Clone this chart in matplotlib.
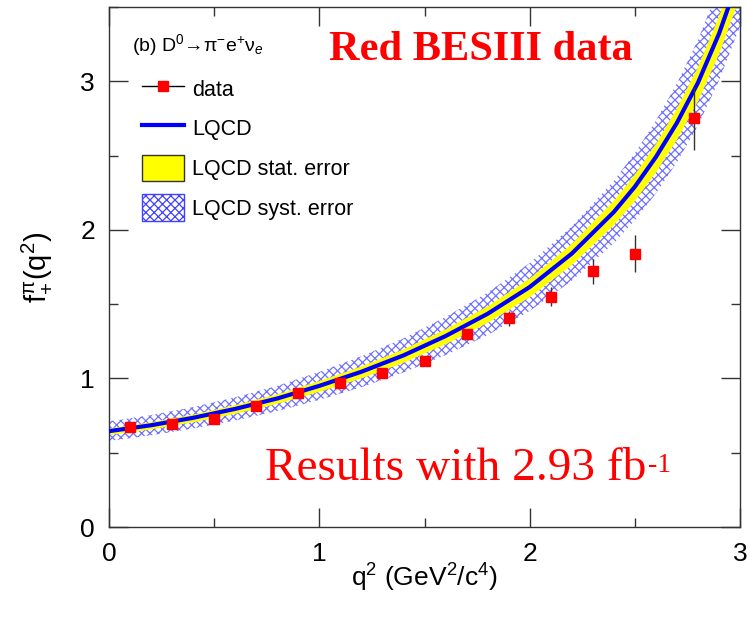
import matplotlib
matplotlib.use('Agg')
import matplotlib.pyplot as plt
from matplotlib.lines import Line2D
from matplotlib.patches import Patch
from matplotlib.ticker import MultipleLocator

# measured points (D0 -> pi- e+ nu_e)
data_q2 = [0.1, 0.3, 0.5, 0.7, 0.9, 1.1, 1.3, 1.5, 1.7, 1.9, 2.1, 2.3, 2.5,
           2.78]
data_f = [0.672, 0.692, 0.724, 0.814, 0.904, 0.969, 1.036, 1.115, 1.30,
          1.405, 1.551, 1.72, 1.84, 2.75]
data_err = [0.012, 0.012, 0.013, 0.015, 0.017, 0.02, 0.022, 0.026, 0.035,
            0.05, 0.065, 0.085, 0.125, 0.21]

# LQCD curve
lqcd_q2 = [0.0, 0.2, 0.4, 0.6, 0.8, 1.0, 1.2, 1.4, 1.6, 1.8, 2.0, 2.2, 2.4,
           2.5, 2.6, 2.7, 2.8, 2.9, 3.0]
lqcd_f = [0.645, 0.685, 0.735, 0.795, 0.865, 0.950, 1.045, 1.155, 1.285,
          1.435, 1.615, 1.84, 2.12, 2.29, 2.49, 2.72, 2.99, 3.32, 3.72]
lqcd_stat = [0.022, 0.024, 0.026, 0.029, 0.032, 0.036, 0.040, 0.045, 0.050,
             0.056, 0.063, 0.071, 0.082, 0.089, 0.096, 0.105, 0.115, 0.127,
             0.14]
lqcd_syst = [0.066, 0.068, 0.072, 0.078, 0.085, 0.094, 0.104, 0.115, 0.128,
             0.143, 0.161, 0.183, 0.21, 0.226, 0.245, 0.265, 0.288, 0.315,
             0.35]

plt.rcParams['font.family'] = ['Liberation Sans', 'DejaVu Sans']
plt.rcParams['mathtext.fontset'] = 'custom'
plt.rcParams['mathtext.rm'] = 'Liberation Sans'
plt.rcParams['mathtext.it'] = 'Liberation Sans:italic'
plt.rcParams['hatch.linewidth'] = 0.9

fig = plt.figure(figsize=(7.5, 6.28), dpi=100)
ax = fig.add_axes([0.1453, 0.1608, 0.8414, 0.8281])

syst_lo = [f - e for f, e in zip(lqcd_f, lqcd_syst)]
syst_hi = [f + e for f, e in zip(lqcd_f, lqcd_syst)]
stat_lo = [f - e for f, e in zip(lqcd_f, lqcd_stat)]
stat_hi = [f + e for f, e in zip(lqcd_f, lqcd_stat)]

hatch_col = (0.2, 0.2, 1.0, 0.7)
ax.fill_between(lqcd_q2, syst_lo, syst_hi, facecolor='none',
                edgecolor=hatch_col, hatch='xxxx', linewidth=0, zorder=1)
ax.fill_between(lqcd_q2, stat_lo, stat_hi, color='#ffff00', linewidth=0,
                zorder=2)
ax.plot(lqcd_q2, lqcd_f, color='#0000ff', lw=3, zorder=3)
ax.errorbar(data_q2, data_f, yerr=data_err, fmt='s', color='red',
            ms=6.5, ecolor='#333333', elinewidth=1, capsize=0, zorder=4)

ax.set_xlim(0, 3)
ax.set_ylim(0, 3.5)
ax.xaxis.set_major_locator(MultipleLocator(1))
ax.xaxis.set_minor_locator(MultipleLocator(0.5))
ax.yaxis.set_major_locator(MultipleLocator(1))
ax.yaxis.set_minor_locator(MultipleLocator(0.5))
ax.tick_params(which='both', direction='in', top=True, right=True,
               color='#333333')
ax.tick_params(which='major', length=13.5, width=1, labelsize=19)
ax.tick_params(axis='y', pad=10)
ax.tick_params(axis='x', pad=11)
ax.tick_params(which='minor', length=6.5, width=1)
for s in ax.spines.values():
    s.set_linewidth(1)
    s.set_color('#333333')

ax.set_xlabel('q$^{2}$ (GeV$^{2}$/c$^{4}$)', fontsize=19, labelpad=-3)
ax.set_ylabel(r'$\mathregular{f_{+}^{\pi}(q^{2})}$', fontsize=21,
              labelpad=20)

ax.text(0.037, 0.927, '(b) D$^{0}$→π$^{-}$e$^{+}$ν$_{e}$',
        transform=ax.transAxes, fontsize=14, va='center', ha='left')

handles = [
    Line2D([], [], color='black', lw=1, marker='s', mfc='red', mec='red',
           ms=6.5),
    Line2D([], [], color='#0000ff', lw=3),
    Patch(facecolor='#ffff00', edgecolor='#333333', lw=1),
    Patch(facecolor='white', edgecolor='#4040ff', hatch='xxxx', lw=1),
]
labels = ['data', 'LQCD', 'LQCD stat. error', 'LQCD syst. error']
ax.legend(handles, labels, loc='upper left', bbox_to_anchor=(0.052, 0.868),
          frameon=False, fontsize=15.5, handlelength=1.95, handleheight=1.5,
          labelspacing=0.62, handletextpad=0.4, borderpad=0,
          borderaxespad=0)

ax.text(0.59, 0.918, 'Red BESIII data', transform=ax.transAxes,
        family='Liberation Serif', fontweight='bold', color='red',
        fontsize=30.5, ha='center', va='center')

res = ax.text(0.248, 0.113, 'Results with 2.93 fb', transform=ax.transAxes,
              family='Liberation Serif', color='red', fontsize=34,
              ha='left', va='center')
fig.canvas.draw()
bb = res.get_window_extent().transformed(ax.transAxes.inverted())
ax.text(bb.x1 + 0.002, bb.y1 - 0.012, '-1', transform=ax.transAxes,
        family='Liberation Serif', color='red', fontsize=20,
        ha='left', va='top')

fig.savefig('out.png', dpi=100)
